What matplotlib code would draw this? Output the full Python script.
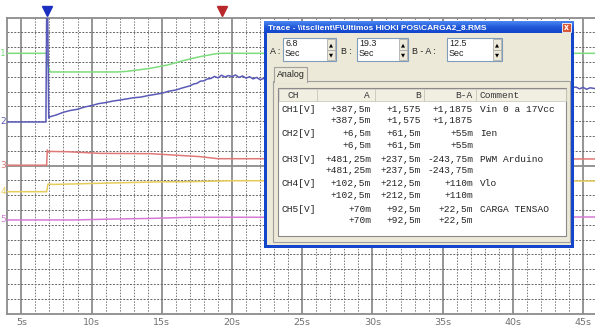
import matplotlib.pyplot as plt
import numpy as np
from matplotlib.patches import Rectangle
from matplotlib.colors import LinearSegmentedColormap
from matplotlib.transforms import blended_transform_factory

# --- trace data (time in s, value in grid divisions, 0 = bottom, 20 = top) ---
ch1_t = [4.0, 6.8, 6.85, 7.05, 11.8, 12.5, 13.5, 14.2, 15.4, 16.5, 17.7, 18.6, 19.1, 45.85]
ch1_v = [17.58, 17.58, 16.9, 16.32, 16.32, 16.36, 16.48, 16.57, 16.79, 17.08, 17.35, 17.51, 17.58, 17.58]

ch2_t = [4.0, 6.75, 6.8, 6.88, 6.95, 7.0, 7.5, 8.0, 8.5, 9.0, 9.5, 10.0, 10.5, 11.0, 11.5,
         12.0, 12.5, 13.0, 13.5, 14.0, 14.5, 15.0, 15.5, 16.0, 16.5, 17.0, 17.25, 17.5, 17.75,
         18.0, 18.25, 18.5, 18.75, 19.0, 19.25, 19.5, 19.75, 20.0, 20.25, 20.5, 20.75, 21.0,
         21.25, 21.5, 21.75, 22.0, 22.25, 22.5, 23.0, 26.0, 30.0, 35.0, 40.0, 44.0, 44.5,
         44.75, 45.0, 45.25, 45.5, 45.85]
ch2_v = [12.94, 12.94, 20.0, 20.0, 13.2, 13.28, 13.42, 13.6, 13.72, 13.8, 13.95, 14.05, 14.18,
         14.25, 14.35, 14.42, 14.5, 14.58, 14.62, 14.72, 14.8, 14.88, 15.02, 15.1, 15.25, 15.38,
         15.5, 15.55, 15.7, 15.72, 15.85, 15.88, 16.02, 15.92, 16.1, 15.98, 16.08, 16.0, 16.12,
         15.95, 16.05, 15.9, 16.0, 15.85, 15.95, 15.8, 15.88, 15.78, 15.8, 15.6, 15.45, 15.35,
         15.3, 15.25, 15.3, 15.18, 15.28, 15.15, 15.25, 15.2]

ch3_t = [4.0, 6.8, 6.85, 6.95, 7.1, 8.3, 10.6, 14.2, 17.7, 19.0, 45.85]
ch3_v = [10.02, 10.02, 11.05, 10.9, 10.95, 10.93, 10.82, 10.8, 10.6, 10.46, 10.44]

ch4_t = [4.0, 6.8, 6.9, 7.3, 10.6, 15.0, 16.5, 20.0, 45.85]
ch4_v = [8.23, 8.23, 8.75, 8.72, 8.8, 8.9, 8.9, 8.97, 8.95]

ch5_t = [4.0, 8.7, 12.0, 14.0, 17.0, 45.85]
ch5_v = [6.32, 6.32, 6.39, 6.42, 6.5, 6.52]

ch_levels = [17.58, 12.94, 10.02, 8.23, 6.32]
ch_colors = ['#7ddc7d', '#5a5ab8', '#e07878', '#e6cc5a', '#d47ad4']
x_ticks = [5, 10, 15, 20, 25, 30, 35, 40, 45]

cursor_a = 6.8
cursor_b = 19.3

# --- trace dialog contents ---
spin_labels = ["A :", "B :", "B - A :"]
spin_values = ["6.8", "19.3", "12.5"]
header = ["CH", "A", "B", "B-A", "Comment"]
channels = ["CH1[V]", "CH2[V]", "CH3[V]", "CH4[V]", "CH5[V]"]
val_a = ["+387,5m", "+6,5m", "+481,25m", "+102,5m", "+70m"]
val_b = ["+1,575", "+61,5m", "+237,5m", "+212,5m", "+92,5m"]
val_ba = ["+1,1875", "+55m", "-243,75m", "+110m", "+22,5m"]
comments = ["Vin 0 a 17Vcc", "Ien", "PWM Arduino", "Vlo", "CARGA TENSAO"]
title = r"Trace - \\tsclient\F\Ultimos HIOKI POS\CARGA2_8.RMS"

W, H = 595, 329
fig = plt.figure(figsize=(W / 100, H / 100), dpi=100)
fig.patch.set_facecolor('white')

top_px, bot_px, left_px = 17.5, 313.5, 7.3
ax = fig.add_axes([left_px / W, 1 - bot_px / H, 1 - left_px / W, (bot_px - top_px) / H])
ax.set_xlim(4, 45.85)
ax.set_ylim(0, 20)

# grid
grid_col = '#8c8c8c'
for t in range(5, 46):
    if t % 5 == 0:
        ax.axvline(t, color=grid_col, lw=1.3, zorder=1)
    else:
        ax.axvline(t, color='#777777', lw=0.7, ls=(0, (1.5, 1.5)), zorder=1)
for d in range(1, 20):
    if d == 10:
        ax.axhline(d, color=grid_col, lw=1.3, zorder=1)
    else:
        ax.axhline(d, color='#666666', lw=0.7, ls=(0, (2, 1.5)), zorder=1)

for s in ['left', 'top', 'bottom']:
    ax.spines[s].set_color(grid_col)
    ax.spines[s].set_linewidth(1.3)
ax.spines['right'].set_visible(False)

ax.set_xticks(x_ticks)
ax.set_xticklabels([f"{t}s" for t in x_ticks], fontsize=6.8, color='#707070')
ax.tick_params(axis='x', length=0, pad=3)
ax.set_yticks([])

# traces
series = [(ch1_t, ch1_v), (ch2_t, ch2_v), (ch3_t, ch3_v), (ch4_t, ch4_v), (ch5_t, ch5_v)]
for i, (tt, vv) in enumerate(series):
    ax.plot(tt, vv, color=ch_colors[i], lw=1.1, zorder=3)

trans = blended_transform_factory(ax.transAxes, ax.transData)
for i, lev in enumerate(ch_levels):
    ax.text(-0.0075, lev, str(i + 1), transform=trans, ha='center', va='center',
            fontsize=6.5, color=ch_colors[i], clip_on=False)

# cursor markers
ax.plot([cursor_a], [20.42], marker='v', ms=7, color='#1a2fc0', clip_on=False, zorder=5)
ax.plot([cursor_b], [20.42], marker='v', ms=7, color='#b8282a', clip_on=False, zorder=5)

# --- dialog overlay in pixel coordinates ---
ov = fig.add_axes([0, 0, 1, 1], zorder=10)
ov.set_xlim(0, W)
ov.set_ylim(H, 0)
ov.axis('off')
ov.patch.set_visible(False)

def rect(x0, y0, x1, y1, fc, ec='none', lw=0.8):
    ov.add_patch(Rectangle((x0, y0), x1 - x0, y1 - y0, facecolor=fc, edgecolor=ec, lw=lw))

ui_font = 'Liberation Sans'
mono = 'Liberation Mono'

# frame + body
rect(264, 21, 574, 248, '#1446cc')
rect(267, 33, 571, 245, '#ece9d8')
# title bar gradient
grad = np.linspace(0, 1, 20).reshape(-1, 1)
ov.imshow(grad, extent=(264, 574, 33, 21), aspect='auto', zorder=1,
          cmap=LinearSegmentedColormap.from_list('tb', ['#4a86f2', '#2158d8', '#1446cc']))
ov.text(268, 27.3, title, fontsize=6.0, color='white', fontweight='bold', family=ui_font,
        va='center', ha='left')
rect(561.5, 23, 570.5, 31.5, '#d8583a', ec='white', lw=0.6)
ov.text(566, 27.3, 'x', fontsize=5.5, color='white', fontweight='bold', ha='center', va='center')

# spin boxes
spin_lx = [270, 341, 412]
spin_box = [(283, 336), (357, 408), (447, 502)]
for lab, val, lx, (bx0, bx1) in zip(spin_labels, spin_values, spin_lx, spin_box):
    ov.text(lx, 52, lab, fontsize=6.4, family=ui_font, va='center', ha='left', color='#222222')
    rect(bx0, 38, bx1, 61, 'white', ec='#7f9db9', lw=0.8)
    ov.text(bx0 + 2, 43.5, val, fontsize=6.4, family=ui_font, va='center', color='#222222')
    ov.text(bx0 + 2, 53, 'Sec', fontsize=6.4, family=ui_font, va='center', color='#222222')
    rect(bx1 - 9, 39, bx1 - 1, 49.5, '#ece9d8', ec='#a0a0a0', lw=0.5)
    rect(bx1 - 9, 49.5, bx1 - 1, 60, '#ece9d8', ec='#a0a0a0', lw=0.5)
    ov.text(bx1 - 5, 44.5, '\u25b2', fontsize=3.8, ha='center', va='center', color='black')
    ov.text(bx1 - 5, 55, '\u25bc', fontsize=3.8, ha='center', va='center', color='black')

# tab + panel
rect(273, 81, 570, 242, '#ece9d8', ec='#a0a0a0', lw=0.8)
rect(274, 67, 307, 82, '#ece9d8', ec='#a0a0a0', lw=0.8)
rect(274.5, 80, 306.5, 83, '#ece9d8')
ov.text(276.5, 74.5, 'Analog', fontsize=6.4, family=ui_font, va='center', ha='left', color='#222222')

# table
rect(278, 88, 566, 236, 'white', ec='#8a8a8a', lw=0.8)
rect(278.5, 88.5, 565.5, 101, '#f1efe2', ec='#c8c6b8', lw=0.5)
for sx in [317, 375, 424, 476]:
    ov.plot([sx, sx], [89, 101], color='#c8c6b8', lw=0.6)
tsize = 6.8
ov.text(287, 95, header[0], fontsize=tsize, family=mono, va='center', ha='left', color='#333333')
ov.text(370, 95, header[1], fontsize=tsize, family=mono, va='center', ha='right', color='#333333')
ov.text(421, 95, header[2], fontsize=tsize, family=mono, va='center', ha='right', color='#333333')
ov.text(473, 95, header[3], fontsize=tsize, family=mono, va='center', ha='right', color='#333333')
ov.text(479, 95, header[4], fontsize=tsize, family=mono, va='center', ha='left', color='#333333')

for i in range(len(channels)):
    y1 = 109 + 25 * i
    y2 = y1 + 11.8
    ov.text(281, y1, channels[i], fontsize=tsize, family=mono, va='center', ha='left', color='#222222')
    for yy in (y1, y2):
        ov.text(371, yy, val_a[i], fontsize=tsize, family=mono, va='center', ha='right', color='#222222')
        ov.text(421, yy, val_b[i], fontsize=tsize, family=mono, va='center', ha='right', color='#222222')
        ov.text(473, yy, val_ba[i], fontsize=tsize, family=mono, va='center', ha='right', color='#222222')
    ov.text(480, y1, comments[i], fontsize=tsize, family=mono, va='center', ha='left', color='#222222')

fig.savefig('out.png', dpi=100, facecolor='white')
